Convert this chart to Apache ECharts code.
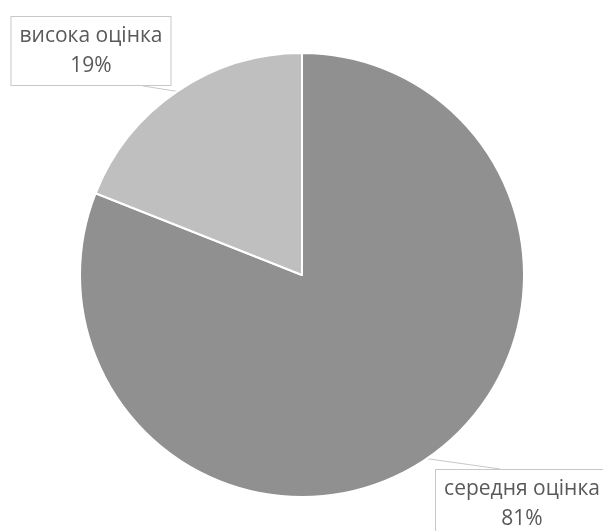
<!DOCTYPE html>
<html>
<head>
<meta charset="utf-8">
<script src="https://cdn.jsdelivr.net/npm/echarts@6/dist/echarts.min.js"></script>
<style>
  html, body { margin: 0; padding: 0; background: #fff; }
  #chart { width: 603px; height: 531px; }
</style>
</head>
<body>
<div id="chart"></div>
<script>
// Share of ratings
const categories = ['середня оцінка', 'висока оцінка'];
const shares = [81, 19];
const sliceColors = ['#909090', '#bfbfbf'];

// Where each callout box sits (centre of the box) and its text width
const calloutCentres = [[522, 504], [91, 51]];
const calloutWidths = [152, 139];

const chart = echarts.init(document.getElementById('chart'));

chart.setOption({
  animation: false,
  series: [{
    type: 'pie',
    center: [302, 275],
    radius: 222,
    startAngle: 90,
    clockwise: true,
    silent: true,
    data: categories.map((name, i) => ({
      name: name,
      value: shares[i],
      itemStyle: { color: sliceColors[i] },
      label: { width: calloutWidths[i] }
    })),
    itemStyle: { borderColor: '#ffffff', borderWidth: 2 },
    label: {
      show: true,
      position: 'outside',
      alignTo: 'none',
      overflow: 'none',
      formatter: '{b}\n{c}%',
      fontFamily: 'Open Sans',
      fontSize: 21,
      lineHeight: 30,
      color: '#595959',
      backgroundColor: '#ffffff',
      borderColor: '#c8c8c8',
      borderWidth: 1,
      padding: [4, 10, 4, 10],
      align: 'center'
    },
    labelLine: {
      show: true,
      lineStyle: { color: '#c8c8c8', width: 1 }
    },
    labelLayout: function (params) {
      const c = calloutCentres[params.dataIndex];
      const r = params.labelRect;
      const start = params.labelLinePoints ? params.labelLinePoints[0] : [c[0], c[1]];
      // end the leader on the near edge of the box
      let end;
      if (params.dataIndex === 0) {
        end = [c[0] - 22, c[1] - r.height / 2];
      } else {
        end = [c[0] + 52, c[1] + r.height / 2];
      }
      return {
        x: c[0],
        y: c[1],
        align: 'center',
        verticalAlign: 'middle',
        labelLinePoints: [start, end, end]
      };
    }
  }]
});
</script>
</body>
</html>
